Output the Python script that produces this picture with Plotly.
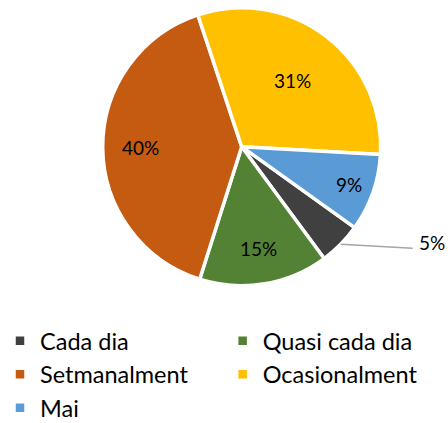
import math
import plotly.graph_objects as go

categories = ["Cada dia", "Quasi cada dia", "Setmanalment", "Ocasionalment", "Mai"]
values = [5, 15, 40, 31, 9]
colors = ["#404040", "#548235", "#C55A11", "#FFC000", "#5B9BD5"]

# label placement (fraction of radius; None = outside label with leader line)
label_radius = [None, 0.74, 0.73, 0.60, 0.82]

W, H = 448, 423
CX, CY, R = 241.7, 146.7, 139.0   # pie geometry in pixels
ROTATION = 125.6

fig = go.Figure(go.Pie(
    labels=categories,
    values=values,
    sort=False,
    direction="clockwise",
    rotation=ROTATION,
    marker=dict(colors=colors, line=dict(color="white", width=3.5)),
    textinfo="none",
    hoverinfo="label+percent",
    domain=dict(x=[(CX - R) / W, (CX + R) / W], y=[1 - (CY + R) / H, 1 - (CY - R) / H]),
))

total = sum(values)
annotations = []
shapes = []
start = ROTATION
for v, frac in zip(values, label_radius):
    span = 360.0 * v / total
    mid = math.radians(start + span / 2)
    start += span
    txt = f"{round(100 * v / total)}%"
    if frac is None:
        ex, ey = CX + R * math.sin(mid), CY - R * math.cos(mid)
        lx, ly = ex + 72, ey + 4
        shapes.append(dict(type="line", xref="paper", yref="paper",
                           x0=ex / W, y0=1 - ey / H, x1=lx / W, y1=1 - ly / H,
                           line=dict(color="#A6A6A6", width=1.5)))
        annotations.append(dict(text=txt, xref="paper", yref="paper",
                                x=(lx + 4) / W, y=1 - (ly - 6) / H,
                                xanchor="left", yanchor="middle", showarrow=False,
                                font=dict(family="Lato", size=19, color="black")))
    else:
        px, py = CX + frac * R * math.sin(mid), CY - frac * R * math.cos(mid)
        annotations.append(dict(text=txt, xref="paper", yref="paper",
                                x=px / W, y=1 - py / H,
                                xanchor="center", yanchor="middle", showarrow=False,
                                font=dict(family="Lato", size=19, color="black")))

fig.update_layout(
    width=W, height=H,
    margin=dict(l=0, r=0, t=0, b=0, autoexpand=False),
    paper_bgcolor="white",
    plot_bgcolor="white",
    showlegend=True,
    annotations=annotations,
    shapes=shapes,
    legend=dict(
        orientation="h",
        x=0, y=0.246, xanchor="left", yanchor="top",
        entrywidth=0.497, entrywidthmode="fraction",
        font=dict(family="Lato", size=23.5, color="black"),
    ),
)

fig.write_html("out.html", config={"displayModeBar": False},
               post_script="document.body.style.margin='0';")
